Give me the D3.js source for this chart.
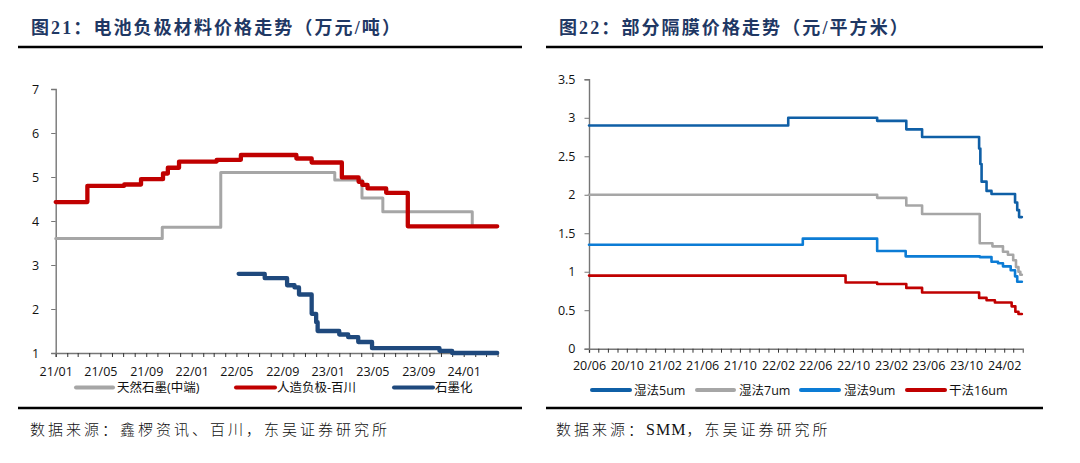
<!DOCTYPE html>
<html><head><meta charset="utf-8">
<script src="https://cdn.jsdelivr.net/npm/d3@7"></script>
<style>body{margin:0;background:#fff;} svg{display:block;}</style>
</head><body><svg id="c" width="1080" height="463"></svg>
<script>
// ---------- Left chart data (万元/吨) ----------
const leftXTickLabels = ["21/01","21/05","21/09","22/01","22/05","22/09","23/01","23/05","23/09","24/01"];
const leftYTicks = [1,2,3,4,5,6,7];
const leftSeriesNames = ["天然石墨(中端)","人造负极-百川","石墨化"];
const naturalGraphite = [["2021-01-01",3.60],["2021-10-14",3.86],["2022-03-20",5.10],["2023-01-20",4.93],["2023-04-03",4.52],["2023-05-29",4.21],["2024-01-24",3.88],["2024-03-31",3.88]];
const artificialAnode = [["2021-01-01",4.43],["2021-03-27",4.80],["2021-07-04",4.83],["2021-08-18",4.95],["2021-10-16",5.08],["2021-10-29",5.21],["2021-11-28",5.35],["2022-03-09",5.39],["2022-05-13",5.50],["2022-10-09",5.42],["2022-11-19",5.33],["2023-02-08",4.99],["2023-03-25",4.89],["2023-04-04",4.82],["2023-04-18",4.74],["2023-06-07",4.64],["2023-08-04",3.88],["2024-03-31",3.88]];
const graphitization = [["2022-05-07",2.80],["2022-07-16",2.70],["2022-09-14",2.54],["2022-10-04",2.49],["2022-10-16",2.33],["2022-11-19",1.89],["2022-12-01",1.70],["2022-12-05",1.50],["2023-02-01",1.42],["2023-02-25",1.36],["2023-03-24",1.25],["2023-04-30",1.11],["2023-10-28",1.05],["2023-12-01",1.00],["2024-03-31",1.00]];

// ---------- Right chart data (元/平方米) ----------
const rightXTickLabels = ["20/06","20/10","21/02","21/06","21/10","22/02","22/06","22/10","23/02","23/06","23/10","24/02"];
const rightYTicks = [0,0.5,1,1.5,2,2.5,3,3.5];
const rightSeriesNames = ["湿法5um","湿法7um","湿法9um","干法16um"];
const wet5 = [["2020-06-01",2.90],["2022-03-06",3.00],["2022-12-18",2.96],["2023-03-22",2.85],["2023-05-12",2.75],["2023-11-12",2.60],["2023-11-16",2.40],["2023-11-20",2.17],["2023-12-06",2.05],["2023-12-22",2.01],["2024-03-07",1.90],["2024-03-14",1.80],["2024-03-20",1.71],["2024-03-29",1.71]];
const wet7 = [["2020-06-01",2.00],["2022-12-18",1.96],["2023-03-22",1.86],["2023-05-12",1.75],["2023-11-14",1.37],["2023-12-25",1.33],["2024-01-28",1.26],["2024-02-13",1.22],["2024-03-01",1.15],["2024-03-10",1.06],["2024-03-18",1.00],["2024-03-24",0.96],["2024-03-29",0.96]];
const wet9 = [["2020-06-01",1.35],["2022-04-22",1.43],["2022-12-18",1.27],["2023-03-20",1.20],["2023-11-14",1.19],["2023-12-22",1.13],["2024-01-12",1.11],["2024-01-28",1.07],["2024-02-22",1.02],["2024-03-07",0.94],["2024-03-14",0.87],["2024-03-29",0.87]];
const dry16 = [["2020-06-01",0.95],["2022-09-07",0.86],["2022-12-18",0.84],["2023-03-22",0.79],["2023-05-12",0.73],["2023-11-12",0.66],["2023-12-06",0.63],["2024-01-02",0.60],["2024-02-25",0.55],["2024-03-08",0.48],["2024-03-18",0.45],["2024-03-29",0.45]];

const parseD = d3.timeParse("%Y-%m-%d");
const svg = d3.select("#c");
svg.append("rect").attr("width",1080).attr("height",463).attr("fill","#fff");

const titleFont = "'Liberation Serif','Noto Sans CJK SC',serif";
const cjk = "'Noto Sans CJK SC',sans-serif";
const tickFont = "'Open Sans','Noto Sans CJK SC',sans-serif";
const axisColor = "#767676";

function header(x0, x1, tx, title){
  svg.append("text").attr("x",tx).attr("y",34).attr("font-family",titleFont)
    .attr("font-size",18).attr("font-weight","bold").attr("fill","#1F3864")
    .attr("letter-spacing","2.1px").text(title);
  svg.append("line").attr("x1",x0).attr("x2",x1).attr("y1",47).attr("y2",47)
    .attr("stroke","#000").attr("stroke-width",2.6);
  svg.append("line").attr("x1",x0).attr("x2",x1).attr("y1",408).attr("y2",408)
    .attr("stroke","#000").attr("stroke-width",2.6);
}

function chart(cfg){
  const x = d3.scaleTime().domain([parseD(cfg.start),parseD(cfg.end)]).range([cfg.x0,cfg.x1]);
  const y = d3.scaleLinear().domain([cfg.yTicks[0],cfg.yTicks[cfg.yTicks.length-1]]).range([cfg.y0,cfg.y1]);
  const labelSet = new Set(cfg.xLabels);
  const fmt = d3.timeFormat("%y/%m");
  const months = d3.timeMonth.range(parseD(cfg.start), parseD(cfg.end));
  const xAxis = d3.axisBottom(x).tickValues(months).tickSize(4).tickPadding(cfg.xPad)
    .tickFormat(d => labelSet.has(fmt(d)) ? fmt(d) : "");
  const gx = svg.append("g").attr("transform",`translate(0,${cfg.y0})`).call(xAxis);
  gx.select(".domain").attr("stroke",axisColor).attr("stroke-width",1.4);
  gx.selectAll(".tick line").attr("stroke","#333").attr("stroke-width",1);
  gx.selectAll("text").attr("font-family",tickFont).attr("font-size",12.5).attr("fill","#111");
  const yAxis = d3.axisLeft(y).tickValues(cfg.yTicks).tickSize(4.5).tickPadding(cfg.yPad).tickFormat(d3.format("~g"));
  const gy = svg.append("g").attr("transform",`translate(${cfg.x0},0)`).call(yAxis);
  gy.select(".domain").attr("stroke",axisColor).attr("stroke-width",1.4);
  gy.selectAll(".tick line").attr("stroke",axisColor).attr("stroke-width",1);
  gy.selectAll("text").attr("font-family",tickFont).attr("font-size",12.5).attr("fill","#111");
  const line = d3.line().curve(d3.curveStepAfter).x(d=>x(parseD(d[0]))).y(d=>y(d[1]));
  cfg.series.forEach(s=>{
    svg.append("path").datum(s.data).attr("d",line).attr("fill","none")
      .attr("stroke",s.color).attr("stroke-width",s.w).attr("stroke-linejoin","round").attr("stroke-linecap","round");
  });
  cfg.legend.forEach(l=>{
    const s = cfg.series[l.i];
    svg.append("line").attr("x1",l.lx0).attr("x2",l.lx1).attr("y1",cfg.ly).attr("y2",cfg.ly)
      .attr("stroke",s.color).attr("stroke-width",4).attr("stroke-linecap","round");
    svg.append("text").attr("x",l.tx).attr("y",cfg.ly+4.5).attr("font-family",tickFont)
      .attr("font-size",12.5).attr("fill","#111").text(s.name);
  });
}

header(18,522,31,"图21：电池负极材料价格走势（万元/吨）");
header(546,1043,559,"图22：部分隔膜价格走势（元/平方米）");

chart({start:"2021-01-01",end:"2024-04-01",x0:55.7,x1:497.6,y0:353,y1:89,yTicks:leftYTicks,xLabels:leftXTickLabels,
  xPad:10,yPad:12,
  series:[
    {name:leftSeriesNames[0],data:naturalGraphite,color:"#A6A6A6",w:3},
    {name:leftSeriesNames[1],data:artificialAnode,color:"#C00000",w:4.3},
    {name:leftSeriesNames[2],data:graphitization,color:"#1F497D",w:4.3}
  ],
  ly:387.5,
  legend:[{i:0,lx0:76,lx1:113,tx:117},{i:1,lx0:236,lx1:275,tx:277},{i:2,lx0:394,lx1:433,tx:435}]
});

chart({start:"2020-06-01",end:"2024-04-01",x0:589,x1:1022.8,y0:348.7,y1:79.3,yTicks:rightYTicks,xLabels:rightXTickLabels,
  xPad:8,yPad:9,
  series:[
    {name:rightSeriesNames[0],data:wet5,color:"#0F5FA6",w:2.6},
    {name:rightSeriesNames[1],data:wet7,color:"#A6A6A6",w:2.6},
    {name:rightSeriesNames[2],data:wet9,color:"#0C7CD5",w:2.6},
    {name:rightSeriesNames[3],data:dry16,color:"#C00000",w:2.6}
  ],
  ly:390,
  legend:[{i:0,lx0:592,lx1:630,tx:634},{i:1,lx0:697,lx1:734,tx:739},{i:2,lx0:801,lx1:839,tx:844},{i:3,lx0:907,lx1:945,tx:949}]
});

svg.append("text").attr("x",30).attr("y",435).attr("font-family",cjk).attr("font-size",15)
  .attr("font-weight",300).attr("letter-spacing","3px").attr("fill","#111").text("数据来源：鑫椤资讯、百川，东吴证券研究所");
const src2 = svg.append("text").attr("x",556).attr("y",435).attr("font-family",cjk).attr("font-size",15)
  .attr("font-weight",300).attr("letter-spacing","3px").attr("fill","#111");
src2.append("tspan").text("数据来源：");
src2.append("tspan").attr("font-family","'Liberation Serif',serif").attr("font-size",16).attr("letter-spacing","1px").text("SMM");
src2.append("tspan").text("，东吴证券研究所");
</script></body></html>
